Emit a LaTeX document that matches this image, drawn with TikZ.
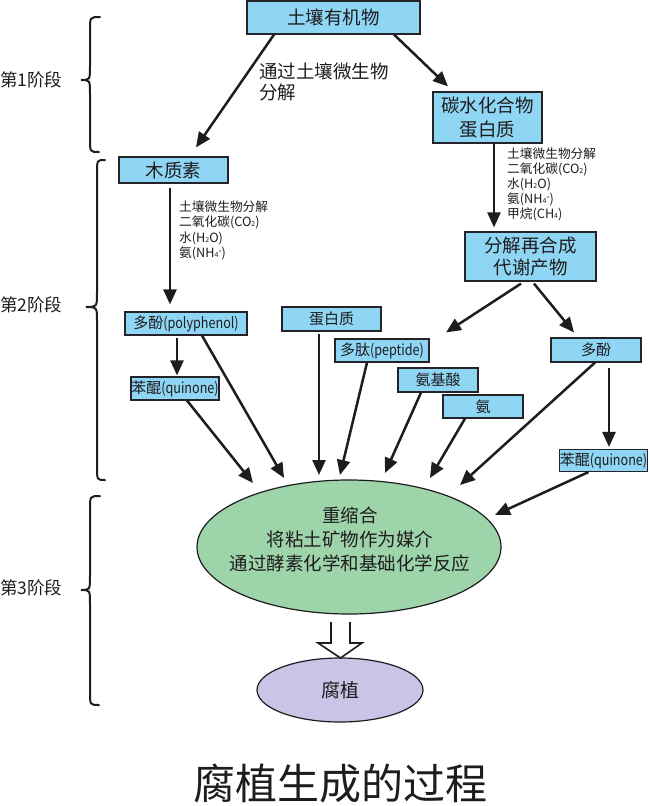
\documentclass[tikz,border=0pt]{standalone}
\usepackage{fontspec}
\setmainfont{Noto Sans CJK SC}
\newfontfamily\narrowlatin[FakeStretch=0.84]{Noto Sans CJK SC}
\usetikzlibrary{arrows.meta,shapes.geometric}
\definecolor{boxblue}{RGB}{142,214,244}
\definecolor{boxline}{RGB}{35,35,40}
\definecolor{ellgreen}{RGB}{158,212,170}
\definecolor{ellpurple}{RGB}{200,197,230}
\definecolor{inkcol}{RGB}{30,28,30}
\newcommand\mysubs[1]{{\fontsize{7}{7}\selectfont #1}}
\newcommand\mysups[1]{\raisebox{3.5pt}{\fontsize{5.5}{6}\selectfont #1}}
\newcommand\lat[1]{{\narrowlatin #1}}
\begin{document}
\begin{tikzpicture}[x=1pt,y=-1pt,
  bigbox/.style={draw=boxline, line width=1.2pt, fill=boxblue, inner sep=0pt, align=center,
     text=inkcol, font=\fontsize{18.5}{22}\selectfont},
  smallbox/.style={draw=boxline, line width=1.1pt, fill=boxblue, inner sep=0pt, align=center,
     text=inkcol, font=\fontsize{15}{17}\selectfont},
  arr/.style={draw=inkcol, line width=2.5pt, -{Triangle[length=15pt,width=13pt]}},
  note/.style={inner sep=0pt, align=left, text=inkcol, font=\fontsize{12.7}{15.3}\selectfont, anchor=north west},
  stage/.style={inner sep=0pt, text=inkcol, font=\fontsize{17.5}{20}\selectfont, anchor=west},
  bracecol/.style={draw=inkcol, line width=2pt, line cap=round}
]
\useasboundingbox (0,0) rectangle (650,806);

% boxes
\node[bigbox, minimum width=173pt, minimum height=33pt] (top) at (333.5,17.5) {土壤有机物};
\node[bigbox, minimum width=109pt, minimum height=51pt, font=\fontsize{18.5}{23.5}\selectfont] (carb) at (487.5,117.5) {碳水化合物\\蛋白质};
\node[bigbox, minimum width=109pt, minimum height=26pt] (lig) at (173.5,170) {木质素};
\node[bigbox, minimum width=131pt, minimum height=49pt, font=\fontsize{18.5}{21.5}\selectfont] (dec) at (530.5,256.5) {分解再合成\\代谢产物};

\node[smallbox, minimum width=122pt, minimum height=23pt] (poly) at (186,323.5) {多酚\lat{(polyphenol)}};
\node[smallbox, minimum width=88pt, minimum height=23pt] (quinL) at (175,388.5) {苯醌\lat{(quinone)}};
\node[smallbox, minimum width=99pt, minimum height=24pt] (prot) at (331.5,319) {蛋白质};
\node[smallbox, minimum width=94pt, minimum height=23pt] (pept) at (382,350.5) {多肽\lat{(peptide)}};
\node[smallbox, minimum width=80pt, minimum height=24pt] (amino) at (438,380) {氨基酸};
\node[smallbox, minimum width=80pt, minimum height=23pt] (amm) at (483,406.5) {氨};
\node[smallbox, minimum width=90pt, minimum height=24pt] (polyR) at (596,350) {多酚};
\node[smallbox, minimum width=88pt, minimum height=22pt] (quinR) at (603.5,460.5) {苯醌\lat{(quinone)}};

% ellipses
\node[ellipse, draw=inkcol, line width=1.2pt, fill=ellgreen, minimum width=304pt, minimum height=134pt, inner sep=0pt] (re) at (349,547) {};
\node[inner sep=0pt, align=center, text=inkcol, font=\fontsize{18.5}{24}\selectfont] (retext) at (350,539) {重缩合\\将粘土矿物作为媒介\\通过酵素化学和基础化学反应};
\node[ellipse, draw=inkcol, line width=1.2pt, fill=ellpurple, minimum width=166pt, minimum height=64pt, inner sep=0pt, text=inkcol, font=\fontsize{19}{22}\selectfont] (hum) at (340,690) {腐植};

% notes
\node[note, font=\fontsize{18.5}{21}\selectfont] (n1) at (259,62.5) {通过土壤微生物\\分解};
\node[note] (n2) at (179,200.5) {土壤微生物分解\\二氧化碳(CO\mysubs{2})\\水(H\mysubs{2}O)\\氨(NH\mysubs{4}\mysups{+})};
\node[note, font=\fontsize{12.7}{15}\selectfont] (n3) at (507,147.5) {土壤微生物分解\\二氧化碳(CO\mysubs{2})\\水(H\mysubs{2}O)\\氨(NH\mysubs{4}\mysups{+})\\甲烷(CH\mysubs{4})};

% stage labels
\node[stage] (s1) at (0,80) {第1阶段};
\node[stage] (s2) at (0,305) {第2阶段};
\node[stage] (s3) at (0,588) {第3阶段};

% braces
\draw[bracecol] (100,17) .. controls (90,17) .. (90,30) -- (90,66) .. controls (90,80) .. (81,80)
   .. controls (90,80) .. (90,94) -- (90,139) .. controls (90,152) .. (99,152);
\draw[bracecol] (105,160) .. controls (97,160) .. (97,173) -- (97,293) .. controls (97,307) .. (86,307)
   .. controls (97,307) .. (97,321) -- (97,467) .. controls (97,480) .. (105,480);
\draw[bracecol] (100,496) .. controls (90,496) .. (90,509) -- (90,576) .. controls (90,590) .. (81,590)
   .. controls (90,590) .. (90,604) -- (90,692) .. controls (90,705) .. (99,705);

% arrows stage 1 and 2
\draw[arr] ([xshift=-59.5pt]top.south) -- ([xshift=22.5pt,yshift=9pt]lig.north);
\draw[arr] ([xshift=-26.5pt]top.south east) -- ([xshift=-39.5pt,yshift=5pt]carb.north);
\draw[arr] ([xshift=6.5pt]carb.south) -- ([xshift=-36.5pt,yshift=4pt]dec.north);
\draw[arr] ([xshift=-3.5pt,yshift=-4pt]lig.south) -- ([xshift=-16pt,yshift=7pt]poly.north);
\draw[arr] ([xshift=-9.5pt,yshift=-2pt]dec.south) -- ([xshift=64pt,yshift=6pt]pept.north);
\draw[arr] ([xshift=3.5pt,yshift=-2pt]dec.south) -- ([xshift=-22pt,yshift=5pt]polyR.north);
\draw[arr] ([xshift=-9pt,yshift=-2pt]poly.south) -- ([xshift=2pt,yshift=1pt]quinL.north);
\draw[arr] ([xshift=13pt,yshift=-5pt]polyR.south) -- ([xshift=5.5pt,yshift=2pt]quinR.north);

% arrows into the recondensation ellipse
\coordinate (t1) at (253,483);
\coordinate (t2) at (284,478);
\coordinate (t3) at (319,475);
\coordinate (t4) at (340,475);
\coordinate (t5) at (385,473);
\coordinate (t6) at (430,478);
\coordinate (t7) at (460,485);
\coordinate (t8) at (495,515);
\draw[arr] ([xshift=12pt]quinL.south) -- (t1);
\draw[arr] ([xshift=16pt]poly.south) -- (t2);
\draw[arr] ([xshift=-12.5pt,yshift=-2pt]prot.south) -- (t3);
\draw[arr] ([xshift=-15pt]pept.south) -- (t4);
\draw[arr] ([xshift=-17pt]amino.south) -- (t5);
\draw[arr] ([xshift=-18pt]amm.south) -- (t6);
\draw[arr] ([xshift=-1pt]polyR.south) -- (t7);
\draw[arr] ([xshift=-15pt]quinR.south) -- (t8);

% hollow arrow
\draw[draw=inkcol, line width=1.6pt, fill=white, line join=miter] (331,622) -- (331,643) -- (318,643) -- (340.5,658) -- (362,643) -- (350,643) -- (350,622);

% title
\node[inner sep=0pt, text=inkcol, font=\fontsize{42}{46}\selectfont] (title) at (340,784) {腐植生成的过程};
\end{tikzpicture}
\end{document}
